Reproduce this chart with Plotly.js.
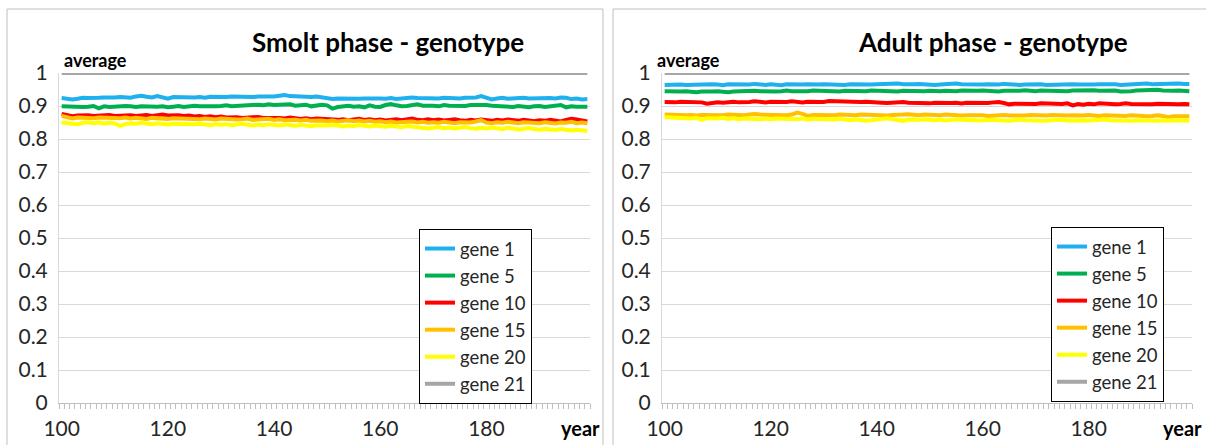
<!DOCTYPE html>
<html>
<head>
<meta charset="utf-8">
<script src="https://cdn.plot.ly/plotly-3.0.1.min.js"></script>
<style>html,body{margin:0;padding:0;background:#fff;}#chart{width:1206px;height:445px;}</style>
</head>
<body>
<div id="chart"></div>
<script>
// ---- DATA ----
const years = [100,101,102,103,104,105,106,107,108,109,110,111,112,113,114,115,116,117,118,119,
120,121,122,123,124,125,126,127,128,129,130,131,132,133,134,135,136,137,138,139,
140,141,142,143,144,145,146,147,148,149,150,151,152,153,154,155,156,157,158,159,
160,161,162,163,164,165,166,167,168,169,170,171,172,173,174,175,176,177,178,179,
180,181,182,183,184,185,186,187,188,189,190,191,192,193,194,195,196,197,198,199];

const xTickVals = [100,120,140,160,180];
const xTickText = ["100","120","140","160","180"];
const seriesNames = ["gene 1","gene 5","gene 10","gene 15","gene 20","gene 21"];
const panelTitles = ["Smolt phase - genotype","Adult phase - genotype"];

// Smolt phase
const smoltGene1 = [0.924,0.921,0.920,0.922,0.925,0.924,0.923,0.925,0.926,0.925,
0.926,0.927,0.926,0.925,0.929,0.931,0.928,0.926,0.930,0.927,
0.922,0.927,0.926,0.925,0.926,0.926,0.927,0.925,0.928,0.927,
0.928,0.927,0.929,0.928,0.930,0.929,0.927,0.929,0.928,0.930,
0.929,0.931,0.933,0.930,0.929,0.931,0.928,0.927,0.929,0.927,
0.925,0.921,0.923,0.922,0.924,0.923,0.922,0.923,0.924,0.922,
0.923,0.922,0.924,0.921,0.923,0.925,0.926,0.924,0.923,0.922,
0.924,0.923,0.925,0.924,0.922,0.923,0.925,0.924,0.926,0.930,
0.926,0.920,0.923,0.925,0.922,0.924,0.923,0.925,0.923,0.924,
0.922,0.925,0.924,0.923,0.926,0.925,0.921,0.923,0.920,0.921];
const smoltGene5 = [0.899,0.898,0.897,0.899,0.897,0.898,0.900,0.893,0.899,0.897,
0.899,0.898,0.900,0.899,0.897,0.899,0.898,0.900,0.898,0.899,
0.896,0.898,0.900,0.897,0.899,0.901,0.899,0.898,0.900,0.899,
0.900,0.902,0.899,0.900,0.902,0.901,0.903,0.904,0.902,0.905,
0.903,0.904,0.902,0.905,0.901,0.902,0.904,0.899,0.902,0.904,
0.902,0.892,0.897,0.899,0.901,0.898,0.899,0.896,0.902,0.898,
0.897,0.903,0.906,0.902,0.899,0.900,0.903,0.905,0.901,0.902,
0.901,0.899,0.903,0.901,0.900,0.902,0.900,0.903,0.904,0.902,
0.903,0.901,0.900,0.902,0.899,0.897,0.900,0.898,0.896,0.899,
0.900,0.897,0.899,0.901,0.903,0.896,0.899,0.898,0.899,0.898];
const smoltGene10 = [0.876,0.872,0.869,0.871,0.873,0.872,0.870,0.872,0.871,0.873,
0.870,0.871,0.869,0.872,0.870,0.871,0.873,0.870,0.872,0.874,
0.871,0.873,0.872,0.870,0.871,0.868,0.870,0.867,0.869,0.866,
0.868,0.865,0.867,0.866,0.864,0.866,0.865,0.867,0.864,0.865,
0.863,0.864,0.862,0.865,0.863,0.861,0.863,0.860,0.862,0.861,
0.859,0.861,0.858,0.860,0.857,0.859,0.861,0.858,0.860,0.857,
0.859,0.856,0.858,0.860,0.857,0.859,0.862,0.858,0.857,0.860,
0.857,0.859,0.856,0.858,0.860,0.857,0.855,0.858,0.856,0.859,
0.857,0.855,0.858,0.856,0.859,0.857,0.855,0.858,0.856,0.854,
0.857,0.855,0.858,0.856,0.853,0.858,0.861,0.859,0.856,0.853];
const smoltGene15 = [0.870,0.866,0.862,0.865,0.864,0.866,0.863,0.865,0.864,0.862,
0.864,0.863,0.865,0.862,0.864,0.863,0.861,0.864,0.862,0.863,
0.861,0.863,0.862,0.864,0.861,0.862,0.860,0.862,0.861,0.859,
0.862,0.860,0.861,0.859,0.860,0.862,0.858,0.860,0.859,0.861,
0.858,0.860,0.857,0.859,0.858,0.856,0.858,0.855,0.857,0.856,
0.854,0.856,0.853,0.855,0.857,0.854,0.856,0.853,0.855,0.852,
0.854,0.851,0.853,0.850,0.852,0.851,0.853,0.850,0.852,0.849,
0.851,0.849,0.852,0.850,0.848,0.851,0.849,0.850,0.853,0.857,
0.850,0.848,0.851,0.849,0.852,0.850,0.848,0.851,0.849,0.850,
0.848,0.851,0.849,0.847,0.850,0.849,0.852,0.848,0.850,0.848];
const smoltGene20 = [0.850,0.848,0.846,0.845,0.849,0.851,0.848,0.850,0.847,0.849,
0.847,0.840,0.845,0.848,0.846,0.849,0.847,0.845,0.848,0.846,
0.844,0.846,0.845,0.847,0.843,0.845,0.846,0.844,0.842,0.845,
0.843,0.845,0.842,0.844,0.846,0.843,0.841,0.844,0.842,0.845,
0.843,0.841,0.844,0.842,0.840,0.843,0.841,0.839,0.842,0.840,
0.841,0.843,0.840,0.838,0.841,0.839,0.842,0.840,0.838,0.841,
0.839,0.837,0.840,0.838,0.836,0.839,0.837,0.838,0.835,0.832,
0.834,0.836,0.833,0.835,0.832,0.834,0.836,0.833,0.831,0.834,
0.832,0.835,0.833,0.830,0.834,0.832,0.829,0.831,0.833,0.830,
0.828,0.831,0.829,0.827,0.830,0.828,0.826,0.828,0.825,0.824];
const smoltGene21 = [1,1,1,1,1,1,1,1,1,1, 1,1,1,1,1,1,1,1,1,1, 1,1,1,1,1,1,1,1,1,1, 1,1,1,1,1,1,1,1,1,1,
1,1,1,1,1,1,1,1,1,1, 1,1,1,1,1,1,1,1,1,1, 1,1,1,1,1,1,1,1,1,1, 1,1,1,1,1,1,1,1,1,1,
1,1,1,1,1,1,1,1,1,1, 1,1,1,1,1,1,1,1,1,1];

// Adult phase
const adultGene1 = [0.964,0.965,0.966,0.965,0.964,0.965,0.966,0.964,0.965,0.966,
0.965,0.963,0.966,0.965,0.964,0.966,0.965,0.967,0.965,0.964,
0.966,0.965,0.963,0.966,0.965,0.967,0.965,0.966,0.964,0.965,
0.966,0.965,0.967,0.966,0.964,0.966,0.965,0.967,0.966,0.965,
0.966,0.967,0.965,0.966,0.968,0.966,0.965,0.966,0.967,0.965,
0.966,0.964,0.965,0.967,0.966,0.968,0.966,0.965,0.966,0.964,
0.965,0.966,0.964,0.965,0.967,0.965,0.966,0.964,0.965,0.966,
0.965,0.966,0.964,0.965,0.966,0.967,0.965,0.966,0.965,0.964,
0.966,0.965,0.966,0.967,0.965,0.966,0.964,0.965,0.967,0.966,
0.967,0.968,0.966,0.967,0.965,0.966,0.967,0.968,0.967,0.967];
const adultGene5 = [0.945,0.944,0.943,0.944,0.945,0.943,0.942,0.944,0.943,0.944,
0.945,0.943,0.942,0.944,0.945,0.943,0.944,0.946,0.945,0.944,
0.946,0.944,0.945,0.947,0.945,0.944,0.946,0.945,0.947,0.946,
0.945,0.947,0.946,0.944,0.946,0.945,0.947,0.946,0.945,0.947,
0.946,0.945,0.947,0.946,0.944,0.946,0.945,0.947,0.946,0.945,
0.946,0.944,0.945,0.946,0.944,0.945,0.947,0.946,0.945,0.946,
0.947,0.945,0.946,0.944,0.946,0.945,0.947,0.946,0.948,0.946,
0.945,0.947,0.946,0.948,0.947,0.946,0.945,0.947,0.948,0.946,
0.947,0.948,0.946,0.947,0.949,0.947,0.944,0.943,0.945,0.947,
0.948,0.946,0.947,0.949,0.947,0.945,0.946,0.947,0.946,0.945];
const adultGene10 = [0.912,0.910,0.911,0.913,0.912,0.914,0.913,0.911,0.907,0.910,
0.911,0.910,0.912,0.913,0.911,0.910,0.912,0.914,0.912,0.911,
0.913,0.912,0.910,0.912,0.914,0.912,0.911,0.913,0.912,0.910,
0.912,0.915,0.914,0.913,0.912,0.914,0.911,0.912,0.913,0.911,
0.912,0.910,0.909,0.911,0.910,0.912,0.910,0.909,0.911,0.910,
0.908,0.910,0.909,0.911,0.909,0.910,0.908,0.910,0.909,0.911,
0.910,0.909,0.911,0.912,0.909,0.905,0.907,0.906,0.908,0.907,
0.906,0.908,0.907,0.905,0.907,0.906,0.908,0.902,0.906,0.904,
0.907,0.905,0.908,0.906,0.907,0.905,0.906,0.908,0.906,0.905,
0.907,0.906,0.905,0.907,0.906,0.904,0.906,0.905,0.906,0.905];
const adultGene15 = [0.874,0.873,0.875,0.874,0.872,0.873,0.871,0.873,0.872,0.874,
0.873,0.872,0.874,0.873,0.871,0.872,0.874,0.876,0.874,0.873,
0.872,0.874,0.873,0.872,0.874,0.880,0.876,0.870,0.873,0.872,
0.871,0.873,0.872,0.874,0.873,0.871,0.872,0.874,0.873,0.872,
0.874,0.873,0.871,0.873,0.872,0.874,0.875,0.873,0.872,0.874,
0.873,0.871,0.872,0.874,0.872,0.873,0.871,0.872,0.873,0.871,
0.872,0.870,0.872,0.871,0.873,0.871,0.870,0.872,0.871,0.873,
0.872,0.870,0.871,0.873,0.872,0.870,0.871,0.872,0.870,0.871,
0.873,0.871,0.870,0.872,0.871,0.869,0.871,0.870,0.872,0.870,
0.871,0.869,0.870,0.872,0.870,0.866,0.869,0.870,0.868,0.869];
const adultGene20 = [0.866,0.865,0.864,0.866,0.863,0.862,0.864,0.858,0.863,0.861,
0.862,0.864,0.861,0.863,0.860,0.862,0.861,0.863,0.860,0.862,
0.860,0.862,0.861,0.859,0.861,0.860,0.862,0.859,0.861,0.860,
0.858,0.860,0.859,0.861,0.859,0.857,0.860,0.858,0.855,0.857,
0.859,0.861,0.863,0.860,0.858,0.855,0.859,0.857,0.858,0.860,
0.858,0.857,0.859,0.856,0.858,0.860,0.858,0.857,0.859,0.858,
0.856,0.858,0.857,0.859,0.857,0.855,0.857,0.859,0.857,0.856,
0.858,0.857,0.855,0.857,0.859,0.858,0.856,0.857,0.859,0.857,
0.856,0.858,0.857,0.859,0.857,0.856,0.858,0.857,0.855,0.857,
0.856,0.858,0.857,0.855,0.857,0.856,0.858,0.856,0.857,0.856];
const adultGene21 = [1,1,1,1,1,1,1,1,1,1, 1,1,1,1,1,1,1,1,1,1, 1,1,1,1,1,1,1,1,1,1, 1,1,1,1,1,1,1,1,1,1,
1,1,1,1,1,1,1,1,1,1, 1,1,1,1,1,1,1,1,1,1, 1,1,1,1,1,1,1,1,1,1, 1,1,1,1,1,1,1,1,1,1,
1,1,1,1,1,1,1,1,1,1, 1,1,1,1,1,1,1,1,1,1];

// ---- STYLE ----
const colors = ["#1FB0EE","#00B050","#FF0000","#FFC000","#FFFF00","#A6A6A6"];
const W = 1206, H = 445;
const FONT = "Lato, 'Open Sans', sans-serif";
const px = v => v / W;
const py = v => (H - v) / H;

const smolt = [smoltGene1, smoltGene5, smoltGene10, smoltGene15, smoltGene20, smoltGene21];
const adult = [adultGene1, adultGene5, adultGene10, adultGene15, adultGene20, adultGene21];

const traces = [];
smolt.forEach((ys, i) => traces.push({
  type: 'scatter', mode: 'lines', x: years, y: ys, name: seriesNames[i],
  xaxis: 'x', yaxis: 'y', legend: 'legend',
  line: {color: colors[i], width: 4}, hoverinfo: 'skip'
}));
adult.forEach((ys, i) => traces.push({
  type: 'scatter', mode: 'lines', x: years, y: ys, name: seriesNames[i],
  xaxis: 'x2', yaxis: 'y2', legend: 'legend2',
  line: {color: colors[i], width: 4}, hoverinfo: 'skip'
}));

function xAxis(domain, anchor) {
  return {
    domain: domain, anchor: anchor, range: [99.5, 199.5],
    showline: true, linecolor: '#BFBFBF', linewidth: 1,
    showgrid: false, zeroline: false,
    tickmode: 'array', tickvals: xTickVals, ticktext: xTickText,
    ticks: 'outside', ticklen: 7, tickcolor: 'rgba(0,0,0,0)',
    tickfont: {family: FONT, size: 21, color: '#262626'},
    minor: {tickmode: 'linear', tick0: 99.5, dtick: 1, ticks: 'outside', ticklen: 5, tickcolor: '#BFBFBF', tickwidth: 1, showgrid: false},
    fixedrange: true
  };
}
function yAxis(anchor) {
  return {
    domain: [py(403), py(73)], anchor: anchor, range: [0, 1],
    tickmode: 'linear', tick0: 0, dtick: 0.1,
    showgrid: true, gridcolor: '#D9D9D9', gridwidth: 1,
    showline: true, linecolor: '#D9D9D9', zeroline: false,
    ticks: 'outside', ticklen: 6, tickcolor: 'rgba(0,0,0,0)',
    tickfont: {family: FONT, size: 21, color: '#262626'},
    fixedrange: true
  };
}
function legend(x, y) {
  return {
    x: x, y: y, xanchor: 'left', yanchor: 'top', xref: 'paper', yref: 'paper',
    bgcolor: '#FFFFFF', bordercolor: '#000000', borderwidth: 1,
    font: {family: FONT, size: 18.5, color: '#262626'},
    itemwidth: 30, tracegroupgap: 0
  };
}

const layout = {
  width: W, height: H,
  margin: {l: 0, r: 0, t: 0, b: 0},
  paper_bgcolor: '#FFFFFF', plot_bgcolor: '#FFFFFF',
  showlegend: true,
  xaxis: xAxis([px(59), px(590)], 'y'),
  yaxis: yAxis('x'),
  xaxis2: xAxis([px(662), px(1192)], 'y2'),
  yaxis2: yAxis('x2'),
  legend: legend(px(419), py(229)),
  legend2: legend(px(1051), py(227)),
  shapes: [
    {type: 'rect', xref: 'paper', yref: 'paper', x0: px(7), x1: px(603), y0: -0.05, y1: py(9), line: {color: '#BFBFBF', width: 1}, layer: 'below'},
    {type: 'rect', xref: 'paper', yref: 'paper', x0: px(613), x1: 1.05, y0: -0.05, y1: py(9), line: {color: '#BFBFBF', width: 1}, layer: 'below'}
  ],
  annotations: [
    {text: '<b>' + panelTitles[0] + '</b>', xref: 'paper', yref: 'paper', x: px(388), y: py(42), xanchor: 'center', yanchor: 'middle', showarrow: false, font: {family: FONT, size: 26, color: '#000'}},
    {text: '<b>' + panelTitles[1] + '</b>', xref: 'paper', yref: 'paper', x: px(993), y: py(42), xanchor: 'center', yanchor: 'middle', showarrow: false, font: {family: FONT, size: 26, color: '#000'}},
    {text: '<b>average</b>', xref: 'paper', yref: 'paper', x: px(62), y: py(60), xanchor: 'left', yanchor: 'middle', showarrow: false, font: {family: FONT, size: 18, color: '#000'}},
    {text: '<b>average</b>', xref: 'paper', yref: 'paper', x: px(655), y: py(60), xanchor: 'left', yanchor: 'middle', showarrow: false, font: {family: FONT, size: 18, color: '#000'}},
    {text: '<b>year</b>', xref: 'paper', yref: 'paper', x: px(580), y: py(428), xanchor: 'center', yanchor: 'middle', showarrow: false, font: {family: FONT, size: 20, color: '#000'}},
    {text: '<b>year</b>', xref: 'paper', yref: 'paper', x: px(1182), y: py(428), xanchor: 'center', yanchor: 'middle', showarrow: false, font: {family: FONT, size: 20, color: '#000'}}
  ]
};

Plotly.newPlot('chart', traces, layout, {displayModeBar: false, staticPlot: true});
</script>
</body>
</html>
